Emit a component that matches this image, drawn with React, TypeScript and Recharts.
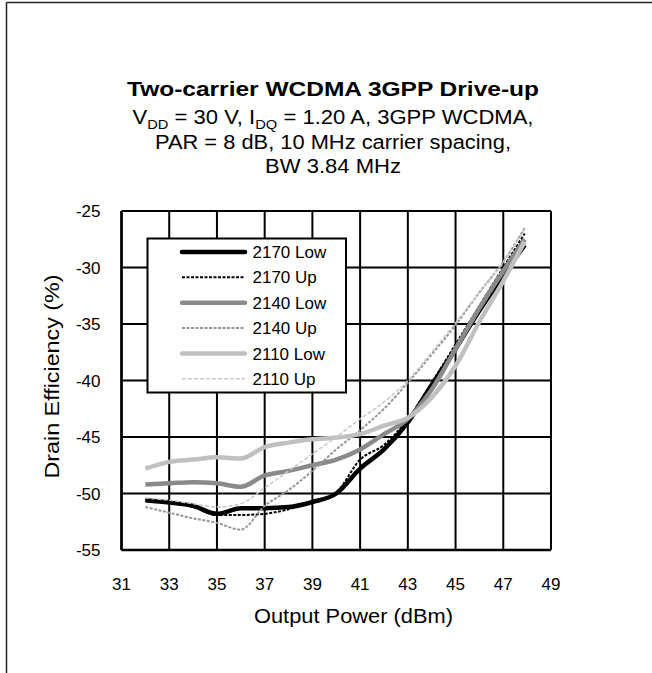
import React from 'react'
import { LineChart, Line, XAxis, YAxis, CartesianGrid } from 'recharts'

// output power (dBm) sample points shared by every trace
const power = [32, 33, 34, 35, 36, 37, 38, 39, 40, 41, 42, 43, 44, 45, 46, 47, 47.9]

const eff2170Low = [-50.6, -50.8, -51.1, -51.8, -51.3, -51.3, -51.2, -50.75, -50.0, -47.8, -46.1, -43.7, -40.4, -37.2, -33.8, -30.7, -28.0]
const eff2170Up = [-50.5, -50.75, -51.2, -51.9, -51.9, -51.8, -51.4, -50.75, -49.9, -47.0, -45.7, -43.4, -40.2, -36.8, -33.4, -30.0, -27.0]
const eff2140Low = [-49.2, -49.1, -49.0, -49.1, -49.4, -48.4, -48.0, -47.5, -47.0, -46.1, -44.75, -43.4, -40.8, -37.2, -33.6, -30.3, -27.5]
const eff2140Up = [-51.2, -51.7, -52.2, -52.6, -53.2, -51.1, -49.7, -48.0, -46.1, -44.4, -42.5, -40.2, -37.7, -35.1, -32.2, -29.5, -26.5]
const eff2110Low = [-47.8, -47.2, -47.0, -46.8, -46.9, -45.9, -45.5, -45.2, -45.05, -44.75, -44.0, -43.3, -41.5, -38.7, -34.8, -31.2, -27.7]
const eff2110Up = [-50.4, -50.6, -50.9, -51.2, -50.9, -49.5, -48.0, -46.5, -45.0, -43.4, -41.9, -40.0, -37.5, -34.9, -32.2, -29.5, -26.6]

const xTicks = [31, 33, 35, 37, 39, 41, 43, 45, 47, 49]
const yTicks = [-55, -50, -45, -40, -35, -30, -25]

const series = [
  { key: 'l2170', name: '2170 Low', values: eff2170Low, color: '#000000', width: 4.5, dash: undefined },
  { key: 'u2170', name: '2170 Up', values: eff2170Up, color: '#000000', width: 2, dash: '3 1.5' },
  { key: 'l2140', name: '2140 Low', values: eff2140Low, color: '#8a8a8a', width: 4.5, dash: undefined },
  { key: 'u2140', name: '2140 Up', values: eff2140Up, color: '#969696', width: 2, dash: '3 1.5' },
  { key: 'l2110', name: '2110 Low', values: eff2110Low, color: '#c0c0c0', width: 4.5, dash: undefined },
  { key: 'u2110', name: '2110 Up', values: eff2110Up, color: '#c8c8c8', width: 1.5, dash: '4 2' },
]

const data = power.map((p, i) => {
  const row: Record<string, number> = { power: p }
  series.forEach(s => { row[s.key] = s.values[i] })
  return row
})

const FONT = '"Liberation Sans", Arial, sans-serif'

function Overlay() {
  const rowY = (i: number) => 252 + i * 25.35
  return (
    <svg width={652} height={673} style={{ position: 'absolute', left: 0, top: 0, pointerEvents: 'none' }} fontFamily={FONT}>
      {/* frame */}
      <line x1={6.5} y1={2.5} x2={652} y2={2.5} stroke="#222" strokeWidth={1.5} />
      <line x1={6.5} y1={2.5} x2={6.5} y2={673} stroke="#222" strokeWidth={1.5} />

      {/* title block */}
      <text x={333} y={96} textAnchor="middle" fontSize={21} fontWeight="bold" textLength={412} lengthAdjust="spacingAndGlyphs">
        Two-carrier WCDMA 3GPP Drive-up
      </text>
      <text x={333} y={123.5} textAnchor="middle" fontSize={19.5} textLength={401} lengthAdjust="spacingAndGlyphs">
        V<tspan dy={5} fontSize={13}>DD</tspan><tspan dy={-5}> = 30 V, I</tspan><tspan dy={5} fontSize={13}>DQ</tspan><tspan dy={-5}> = 1.20 A, 3GPP WCDMA,</tspan>
      </text>
      <text x={333} y={148.5} textAnchor="middle" fontSize={19.5} textLength={356} lengthAdjust="spacingAndGlyphs">
        PAR = 8 dB, 10 MHz carrier spacing,
      </text>
      <text x={333} y={172.5} textAnchor="middle" fontSize={19.5} textLength={136} lengthAdjust="spacingAndGlyphs">
        BW 3.84 MHz
      </text>

      {/* axis titles */}
      <text x={353.5} y={623} textAnchor="middle" fontSize={20} textLength={199} lengthAdjust="spacingAndGlyphs">
        Output Power (dBm)
      </text>
      <text transform="translate(59,376.5) rotate(-90)" textAnchor="middle" fontSize={20} textLength={204} lengthAdjust="spacingAndGlyphs">
        Drain Efficiency (%)
      </text>

      {/* legend */}
      <rect x={147.5} y={238.5} width={198.5} height={154} fill="#fff" stroke="#000" strokeWidth={2} />
      {series.map((s, i) => (
        <g key={s.key}>
          <line x1={182} y1={rowY(i)} x2={245} y2={rowY(i)} stroke={s.color} strokeWidth={s.width}
            strokeDasharray={s.dash} strokeLinecap={s.dash ? 'butt' : 'round'} />
          <text x={252.5} y={rowY(i)} dy="0.36em" fontSize={17}>{s.name}</text>
        </g>
      ))}
    </svg>
  )
}

export default function App() {
  return (
    <div style={{ position: 'absolute', left: 0, top: 0, width: 652, height: 673, background: '#fff' }}>
      <LineChart width={652} height={673} data={data} margin={{ top: 211, right: 101, bottom: 83, left: 0 }}>
        <CartesianGrid stroke="#000" strokeWidth={2} />
        <XAxis
          dataKey="power"
          type="number"
          domain={[31, 49]}
          ticks={xTicks}
          height={40}
          tickSize={0}
          tickMargin={28}
          axisLine={{ stroke: '#000', strokeWidth: 2.5 }}
          tick={{ fontSize: 17, fill: '#000', fontFamily: FONT }}
        />
        <YAxis
          type="number"
          domain={[-55, -25]}
          ticks={yTicks}
          width={121.5}
          tickSize={0}
          tickMargin={21}
          axisLine={{ stroke: '#000', strokeWidth: 2.5 }}
          tick={{ fontSize: 17, fill: '#000', fontFamily: FONT }}
        />
        {series.map(s => (
          <Line
            key={s.key}
            dataKey={s.key}
            name={s.name}
            type="monotone"
            stroke={s.color}
            strokeWidth={s.width}
            strokeDasharray={s.dash}
            dot={false}
            isAnimationActive={false}
          />
        ))}
      </LineChart>
      <Overlay />
    </div>
  )
}
